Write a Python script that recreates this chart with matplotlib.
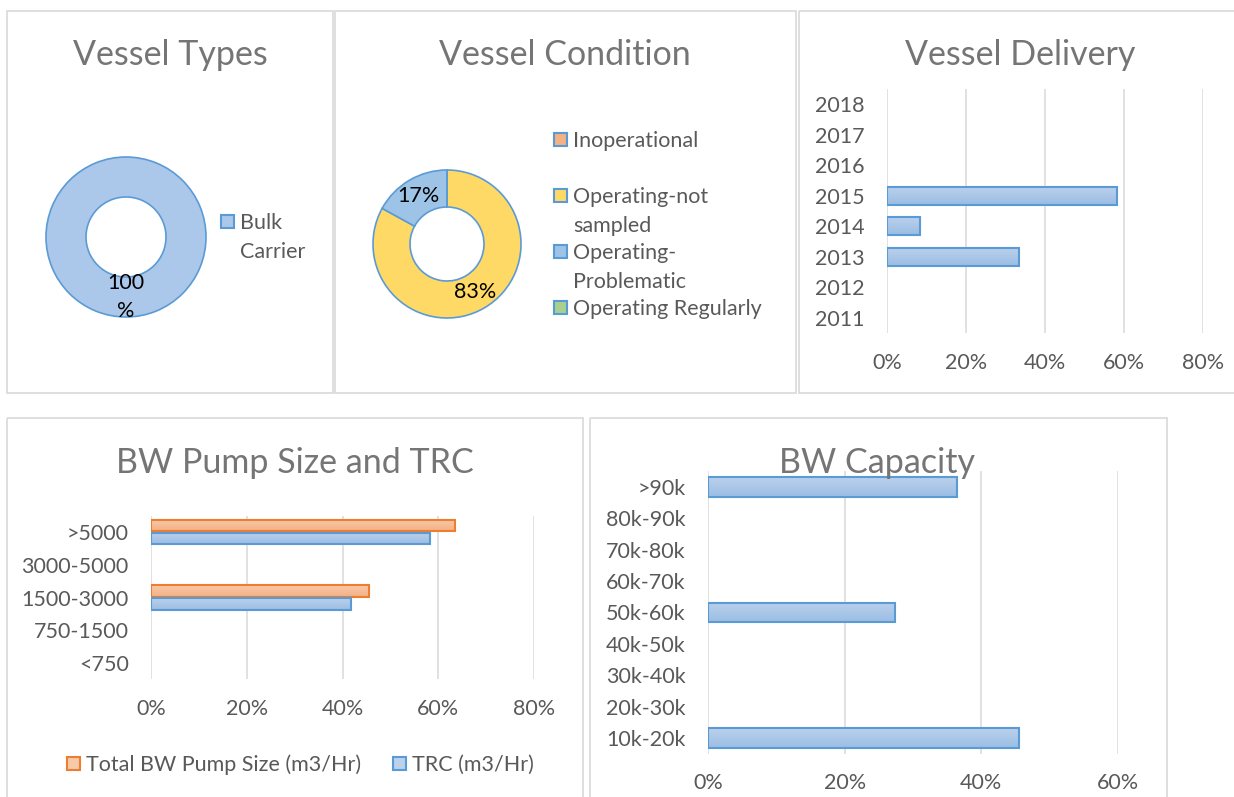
"""Vessel survey dashboard — five small Excel-style panels."""
import matplotlib
matplotlib.use("Agg")
import matplotlib.pyplot as plt
import numpy as np
from matplotlib.colors import LinearSegmentedColormap
from matplotlib.patches import Rectangle
from matplotlib.ticker import PercentFormatter

plt.rcParams["font.family"] = ["Lato", "DejaVu Sans"]

# ---- data -------------------------------------------------------------
type_labels = ["Bulk\nCarrier"]
type_values = [1.0]

cond_labels = ["Inoperational", "Operating-not\nsampled", "Operating-\nProblematic", "Operating Regularly"]
cond_values = [0.0, 0.83, 0.17, 0.0]

delivery_years = ["2011", "2012", "2013", "2014", "2015", "2016", "2017", "2018"]
delivery_share = [0.0, 0.0, 0.333, 0.083, 0.583, 0.0, 0.0, 0.0]

pump_bins = ["<750", "750-1500", "1500-3000", "3000-5000", ">5000"]
pump_total = [0.0, 0.0, 0.455, 0.0, 0.636]
pump_trc = [0.0, 0.0, 0.417, 0.0, 0.583]
pump_series = ["Total BW Pump Size (m3/Hr)", "TRC (m3/Hr)"]

cap_bins = ["10k-20k", "20k-30k", "30k-40k", "40k-50k", "50k-60k",
            "60k-70k", "70k-80k", "80k-90k", ">90k"]
cap_share = [0.455, 0.0, 0.0, 0.0, 0.273, 0.0, 0.0, 0.0, 0.364]

# ---- style ------------------------------------------------------------
BLUE_EDGE = "#5B9BD5"
BLUE_TOP, BLUE_BOT = "#BBD1EC", "#9BBDE4"
ORANGE_EDGE = "#ED7D31"
ORANGE_TOP, ORANGE_BOT = "#F8C9A9", "#F4B183"
COND_COLORS = ["#F4B183", "#FFD966", "#9DC3E6", "#A9D18E"]
GRID = "#D9D9D9"
TICK = "#595959"
TITLE = "#757575"
FS = 15.5
TFS = 24.5

W, H = 1234, 797
fig = plt.figure(figsize=(W / 100, H / 100), dpi=100)
fig.patch.set_facecolor("white")


def box(x0, y0, x1, y1):
    return [x0 / W, 1 - y1 / H, (x1 - x0) / W, (y1 - y0) / H]


def shade(ax, patch, top, bot):
    # vertical gradient clipped to the bar; empty bars drawn as nothing
    x0, y0, w, h = patch.get_x(), patch.get_y(), patch.get_width(), patch.get_height()
    if w <= 0:
        patch.set_visible(False)
        return
    cmap = LinearSegmentedColormap.from_list("g", [bot, top])
    im = ax.imshow(np.linspace(0, 1, 50).reshape(-1, 1), extent=[x0, x0 + w, y0, y0 + h],
                   origin="lower", aspect="auto", cmap=cmap, zorder=patch.get_zorder() - 0.1)
    im.set_clip_path(patch)
    patch.set_facecolor("none")


def style_bar_axes(ax, xmax, labels):
    ax.set_xlim(0, xmax)
    ax.set_ylim(-0.5, len(labels) - 0.5)
    ax.set_yticks(range(len(labels)))
    ax.set_yticklabels(labels)
    ax.set_xticks(np.arange(0, xmax + 0.01, 0.2))
    ax.xaxis.set_major_formatter(PercentFormatter(1.0, decimals=0))
    for s in ax.spines.values():
        s.set_visible(False)
    ax.tick_params(length=0, labelsize=FS, colors=TICK)
    ax.tick_params(axis="y", pad=16)
    ax.tick_params(axis="x", pad=14)
    ax.xaxis.grid(True, color=GRID, lw=1.1)
    ax.set_axisbelow(True)
    ax.patch.set_alpha(0)


def pct_label(v):
    if v < 0.5:
        return ""
    return f"{v:.0f}%" if v < 99.5 else "100\n%"


# ---- panel 1: vessel types --------------------------------------------
ax1 = fig.add_axes(box(46, 157, 206, 317))
ax1.pie(type_values, colors=["#ABC7E9"], startangle=90, counterclock=False,
        wedgeprops=dict(width=0.5, edgecolor=BLUE_EDGE, linewidth=1.2),
        autopct=pct_label, pctdistance=0.75,
        textprops=dict(fontsize=FS, color="black", linespacing=1.55))
ax1.set_xlim(-1, 1)
ax1.set_ylim(-1, 1)

# ---- panel 2: vessel condition ----------------------------------------
ax2 = fig.add_axes(box(373, 170, 521, 318))
ax2.pie(cond_values, colors=COND_COLORS, startangle=90, counterclock=False,
        wedgeprops=dict(width=0.5, edgecolor=BLUE_EDGE, linewidth=1.2),
        autopct=pct_label, pctdistance=0.75,
        textprops=dict(fontsize=FS, color="black"))
ax2.set_xlim(-1, 1)
ax2.set_ylim(-1, 1)

# ---- panel 3: vessel delivery -----------------------------------------
ax3 = fig.add_axes(box(887, 88.7, 1203, 333.3))
bars = ax3.barh(range(len(delivery_years)), delivery_share, height=0.6,
                edgecolor=BLUE_EDGE, linewidth=1.5, zorder=3)
for b in bars:
    shade(ax3, b, BLUE_TOP, BLUE_BOT)
style_bar_axes(ax3, 0.8, delivery_years)

# ---- panel 4: pump size and TRC ---------------------------------------
ax4 = fig.add_axes(box(151, 515.6, 534, 679.4))
y = np.arange(len(pump_bins))
b_tot = ax4.barh(y + 0.2, pump_total, height=0.36, edgecolor=ORANGE_EDGE, linewidth=1.5, zorder=3)
b_trc = ax4.barh(y - 0.2, pump_trc, height=0.36, edgecolor=BLUE_EDGE, linewidth=1.5, zorder=3)
for b in b_tot:
    shade(ax4, b, ORANGE_TOP, ORANGE_BOT)
for b in b_trc:
    shade(ax4, b, BLUE_TOP, BLUE_BOT)
style_bar_axes(ax4, 0.8, pump_bins)

# ---- panel 5: BW capacity ---------------------------------------------
ax5 = fig.add_axes(box(708, 471.3, 1118, 753.7))
bars = ax5.barh(range(len(cap_bins)), cap_share, height=0.62,
                edgecolor=BLUE_EDGE, linewidth=1.5, zorder=3)
for b in bars:
    shade(ax5, b, BLUE_TOP, BLUE_BOT)
style_bar_axes(ax5, 0.6, cap_bins)

# ---- overlay: panel frames, titles, legends (pixel coords) ------------
ov = fig.add_axes([0, 0, 1, 1])
ov.set_xlim(0, W)
ov.set_ylim(H, 0)
ov.axis("off")
ov.patch.set_alpha(0)

for x0, y0, x1, y1 in [(7, 10.5, 333, 393), (335, 10.5, 796, 393), (799, 10.5, 1240, 393),
                       (7, 418, 583, 805), (590, 418, 1167, 805)]:
    ov.add_patch(Rectangle((x0, y0), x1 - x0, y1 - y0, fill=False, edgecolor=GRID, lw=1.2))

for txt, x, yb in [("Vessel Types", 170, 65), ("Vessel Condition", 565, 65),
                   ("Vessel Delivery", 1020, 65), ("BW Pump Size and TRC", 295, 473),
                   ("BW Capacity", 877, 473)]:
    ov.text(x, yb, txt, fontsize=TFS, color=TITLE, ha="center", va="baseline", zorder=10)


def legend_item(x, yb, label, face, edge):
    ov.add_patch(Rectangle((x, yb - 14), 13, 13, facecolor=face, edgecolor=edge, lw=1.5))
    # wrapped labels: each line on its own baseline, 29 px apart
    for k, line in enumerate(label.split("\n")):
        ov.text(x + 19, yb + 29 * k, line, fontsize=FS, color=TICK, ha="left", va="baseline")


legend_item(221, 229, type_labels[0], "#ABC7E9", BLUE_EDGE)
for i, (lab, col) in enumerate(zip(cond_labels, COND_COLORS)):
    legend_item(554, 147 + 56 * i, lab, col, BLUE_EDGE)
legend_item(67, 771, pump_series[0], ORANGE_TOP, ORANGE_EDGE)
legend_item(393, 771, pump_series[1], BLUE_TOP, BLUE_EDGE)

fig.savefig("out.png", dpi=100)
